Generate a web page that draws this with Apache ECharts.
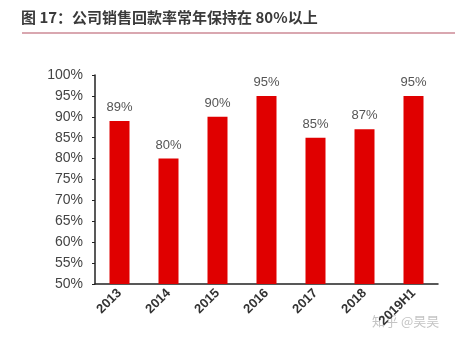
<!DOCTYPE html>
<html>
<head>
<meta charset="utf-8">
<script src="https://cdn.jsdelivr.net/npm/echarts@6/dist/echarts.min.js"></script>
<style>
  html, body { margin: 0; padding: 0; background: #fff; }
  #chart { width: 455px; height: 345px; }
</style>
</head>
<body>
<div id="chart"></div>
<script>
// Sales collection rate by year
const categories = ['2013', '2014', '2015', '2016', '2017', '2018', '2019H1'];
const collectionRate = [89, 80, 90, 95, 85, 87, 95];
const titleText = '图 17：公司销售回款率常年保持在 80%以上';
const watermarkText = '知乎 @昊昊';

const chart = echarts.init(document.getElementById('chart'), null, { renderer: 'canvas' });

chart.setOption({
  animation: false,
  backgroundColor: '#ffffff',
  textStyle: { fontFamily: '"Noto Sans CJK SC", "Liberation Sans", Arial, sans-serif' },
  grid: { left: 95, right: 17, top: 75, bottom: 61 },
  graphic: [
    {
      type: 'text', left: 21, top: 10,
      style: { text: titleText, fill: '#3a3a3a', font: 'bold 15px "Noto Sans CJK SC", sans-serif' }
    },
    {
      type: 'rect', shape: { x: 22, y: 32, width: 433, height: 2 },
      style: { fill: '#d9a7b0' }
    },
    {
      type: 'text', left: 372, top: 315,
      style: { text: watermarkText, fill: '#c4c4c4', font: '13px "Noto Sans CJK SC", sans-serif' }
    }
  ],
  xAxis: {
    type: 'category',
    data: categories,
    axisLine: { lineStyle: { color: '#222', width: 1.5 } },
    axisTick: { show: false },
    axisLabel: {
      rotate: 45, color: '#333', fontSize: 13, fontWeight: 'bold', margin: 7,
      fontFamily: '"Liberation Sans", Arial, sans-serif'
    }
  },
  yAxis: {
    type: 'value',
    min: 50, max: 100, interval: 5,
    splitLine: { show: false },
    axisLine: { show: true, lineStyle: { color: '#222', width: 1.5 } },
    axisTick: { show: true, length: 3, lineStyle: { color: '#222' } },
    axisLabel: {
      formatter: '{value}%', color: '#444', fontSize: 14, margin: 12,
      fontFamily: '"Liberation Sans", Arial, sans-serif'
    }
  },
  series: [{
    type: 'bar',
    data: collectionRate,
    barWidth: 20,
    itemStyle: { color: '#e00000' },
    label: {
      show: true, position: 'top', distance: 7,
      formatter: '{c}%', color: '#555', fontSize: 13,
      fontFamily: '"Liberation Sans", Arial, sans-serif'
    }
  }]
});
</script>
</body>
</html>
